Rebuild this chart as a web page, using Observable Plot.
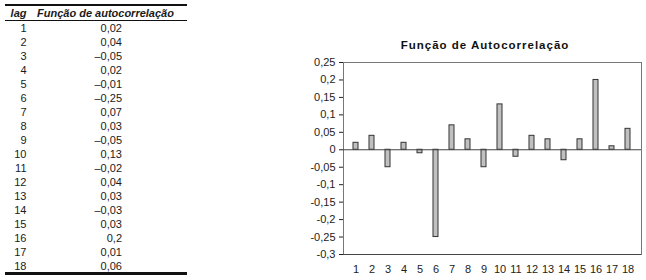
<!DOCTYPE html>
<html lang="pt">
<head>
<meta charset="utf-8">
<script src="https://cdn.jsdelivr.net/npm/d3@7"></script>
<script src="https://cdn.jsdelivr.net/npm/@observablehq/plot@0.6"></script>
<style>
  html, body { margin: 0; padding: 0; background: #fff; }
  #page { position: relative; width: 646px; height: 280px; overflow: hidden; font-family: "Liberation Sans", Arial, sans-serif; color: #1a1a1a; }
  .rule { position: absolute; left: 5px; width: 182px; background: #111; }
  .row { position: absolute; left: 5px; width: 182px; height: 14px; line-height: 14px; font-size: 11px; }
  .row .lag { position: absolute; left: 0; width: 21.5px; text-align: right; }
  .row .val { position: absolute; left: 0; width: 117px; text-align: right; }
  .head { position: absolute; left: 5px; top: 7px; width: 182px; height: 13px; line-height: 13px; font-size: 11px; font-weight: bold; font-style: italic; }
  .head .lag { position: absolute; left: 0; width: 21.5px; text-align: right; }
  .head .val { position: absolute; left: 32px; }
  #title { position: absolute; left: 385px; top: 38px; width: 200px; text-align: center; font-size: 11.5px; line-height: 14px; font-weight: bold; letter-spacing: 1px; color: #111; }
  #chart { position: absolute; left: 300px; top: 0; }
</style>
</head>
<body>
<div id="page">
  <div class="rule" style="top:4px;height:2px"></div>
  <div class="head"><span class="lag">lag</span><span class="val">Função de autocorrelação</span></div>
  <div class="rule" style="top:20px;height:1px"></div>
  <div id="rows"></div>
  <div class="rule" style="top:272px;height:3px"></div>
  <div id="title">Função de Autocorrelação</div>
  <div id="chart"></div>
</div>
<script>
// Autocorrelation function by lag
const lags = [1, 2, 3, 4, 5, 6, 7, 8, 9, 10, 11, 12, 13, 14, 15, 16, 17, 18];
const acf = [0.02, 0.04, -0.05, 0.02, -0.01, -0.25, 0.07, 0.03, -0.05, 0.13, -0.02, 0.04, 0.03, -0.03, 0.03, 0.2, 0.01, 0.06];
const yTicks = [0.25, 0.2, 0.15, 0.1, 0.05, 0, -0.05, -0.1, -0.15, -0.2, -0.25, -0.3];

const rows = lags.map((lag, i) => ({lag, acf: acf[i]}));

// Table: decimal comma, en dash for negatives
const tableFormat = v => String(v).replace(".", ",").replace("-", "\u2013");
const rowsEl = document.getElementById("rows");
rows.forEach((d, i) => {
  const r = document.createElement("div");
  r.className = "row";
  r.style.top = (21 + 14 * i) + "px";
  r.innerHTML = `<span class="lag">${d.lag}</span><span class="val">${tableFormat(d.acf)}</span>`;
  rowsEl.appendChild(r);
});

// Axis labels: decimal comma, hyphen for negatives
const axisFormat = v => String(Math.round(v * 100) / 100).replace(".", ",");

const chart = Plot.plot({
  width: 346,
  height: 280,
  marginTop: 62,
  marginBottom: 26,
  marginLeft: 43,
  marginRight: 5,
  style: {fontFamily: "'Liberation Sans', Arial, sans-serif", fontSize: "11px", color: "#222", background: "transparent"},
  x: {type: "band", domain: lags, paddingInner: 0.66, paddingOuter: 0.33, align: 0.5, label: null, tickSize: 0, tickPadding: 11},
  y: {domain: [-0.3, 0.25], ticks: yTicks, tickFormat: axisFormat, label: null, tickSize: 4, tickPadding: 4, line: true},
  marks: [
    Plot.frame({stroke: "#777"}),
    Plot.barY(rows, {x: "lag", y1: 0, y2: "acf", fill: "#c0c0c0", stroke: "#333", strokeWidth: 1}),
    Plot.ruleY([0], {stroke: "#444"}),
    Plot.ruleY([-0.3], {stroke: "#444"})
  ]
});
document.getElementById("chart").appendChild(chart);
</script>
</body>
</html>
